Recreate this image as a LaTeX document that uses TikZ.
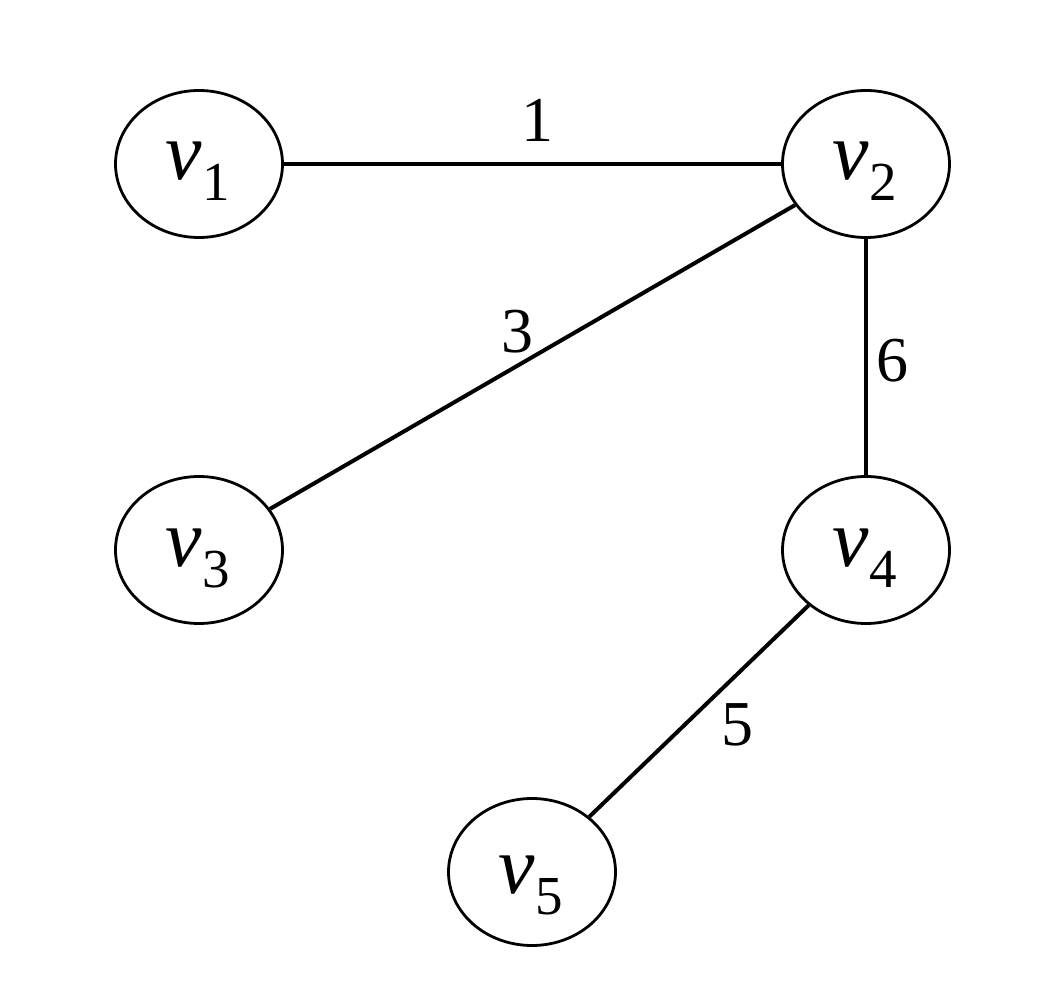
\documentclass[tikz,border=0pt]{standalone}
\usepackage{fontspec}
\setmainfont{Liberation Serif}
\usetikzlibrary{shapes.geometric}
\newcommand{\vlab}[1]{{\fontsize{82}{82}\selectfont\itshape v}\kern1pt\raisebox{-21pt}{\fontsize{55}{55}\selectfont #1}}
\begin{document}
\begin{tikzpicture}[x=1pt,y=1pt,
  vert/.style={draw,ellipse,line width=2.8pt,minimum width=167pt,minimum height=147pt,inner sep=0pt},
  vtext/.style={anchor=base,inner sep=0pt},
  edge/.style={line width=4pt},
  wlab/.style={anchor=base,inner sep=0pt,font=\fontsize{64}{64}\selectfont}]
\useasboundingbox (0,0) rectangle (1038,994);
\node[vert] (v1) at (199,830) {};
\node[vert] (v2) at (866,830) {};
\node[vert] (v3) at (199,444) {};
\node[vert] (v4) at (866,444) {};
\node[vert] (v5) at (532,122) {};
\node[vtext] (t1) at (198,814) {\vlab{1}};
\node[vtext] (t2) at (865,814) {\vlab{2}};
\node[vtext] (t3) at (198,427) {\vlab{3}};
\node[vtext] (t4) at (865,427) {\vlab{4}};
\node[vtext] (t5) at (531,101) {\vlab{5}};
\draw[edge] (v1) -- (v2);
\draw[edge] (v2) -- (v3);
\draw[edge] (v2) -- (v4);
\draw[edge] (v4) -- (v5);
\node[wlab] (w1) at (537,852) {1};
\node[wlab] (w3) at (517,641) {3};
\node[wlab] (w6) at (892,612) {6};
\node[wlab] (w5) at (737,249) {5};
\end{tikzpicture}
\end{document}
